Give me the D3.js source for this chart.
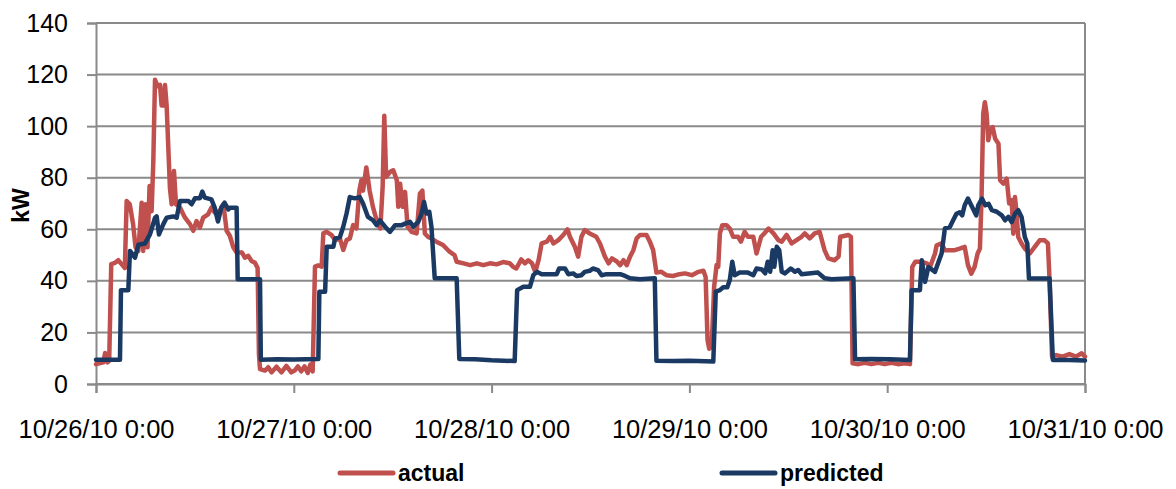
<!DOCTYPE html>
<html>
<head>
<meta charset="utf-8">
<script src="https://cdn.jsdelivr.net/npm/d3@7"></script>
<style>
	body { margin: 0; background: #fff; }
	svg text { font-family: "Liberation Sans", Arial, sans-serif; fill: #000; }
</style>
</head>
<body>
<div id="chart"></div>
<script>
// start of the series, hours are counted from here
const startDate = new Date(2010, 9, 26, 0, 0);
const tickLabels = ["10/26/10 0:00", "10/27/10 0:00", "10/28/10 0:00", "10/29/10 0:00", "10/30/10 0:00", "10/31/10 0:00"];
const yTicks = [0, 20, 40, 60, 80, 100, 120, 140];
const seriesNames = ["actual", "predicted"];

// actual load
const actualHours = [0, 0.9, 1.1, 1.4, 1.6, 1.85, 2.3, 2.7, 3.1, 3.5, 3.72, 4.1, 4.5, 4.8, 5.14, 5.54, 5.74, 6.0, 6.25, 6.5, 6.75, 6.95, 7.16, 7.48, 7.76, 7.96, 8.17, 8.37, 8.57, 8.97, 9.18, 9.46, 9.71, 10.19, 10.8, 11.4, 11.8, 12.2, 12.6, 13.0, 13.6, 14.0, 14.4, 15.0, 15.45, 15.85, 16.25, 16.66, 17.06, 17.7, 18.07, 18.48, 18.88, 19.29, 19.61, 19.77, 19.9, 20.5, 20.9, 21.3, 21.9, 22.5, 23.1, 23.7, 24.1, 24.5, 24.9, 25.3, 25.7, 26.0, 26.29, 26.57, 26.98, 27.38, 27.58, 27.99, 28.6, 29.0, 29.6, 30.0, 30.4, 30.8, 31.2, 31.6, 31.95, 32.2, 32.4, 32.8, 33.2, 33.6, 34.05, 34.5, 34.78, 34.98, 35.2, 35.67, 36.07, 36.5, 36.68, 36.9, 37.2, 37.5, 37.8, 38.3, 38.9, 39.3, 39.6, 39.9, 40.3, 40.7, 41.3, 42.1, 42.9, 43.5, 43.76, 44.6, 45.4, 46.2, 47.0, 47.8, 48.6, 49.4, 50.2, 50.6, 51.0, 51.6, 52.05, 52.45, 52.9, 53.3, 53.7, 54.07, 54.7, 55.1, 55.5, 56.1, 56.7, 57.2, 57.5, 58.1, 58.5, 58.9, 59.3, 59.9, 60.7, 61.15, 61.75, 62.2, 62.6, 63.2, 63.6, 64.0, 64.4, 64.8, 65.2, 65.6, 66.0, 66.8, 67.2, 67.6, 68.0, 68.6, 69.2, 70.0, 70.8, 71.46, 72.3, 73.1, 73.7, 73.97, 74.2, 74.4, 74.7, 75.0, 75.3, 75.5, 75.7, 75.99, 76.5, 76.9, 77.3, 77.9, 78.25, 78.7, 79.1, 79.75, 80.15, 80.7, 81.1, 81.6, 82.2, 82.8, 83.2, 83.8, 84.4, 85.0, 85.6, 86.0, 86.6, 87.2, 87.8, 88.4, 88.85, 89.6, 90.1, 90.3, 91.3, 91.6, 91.8, 92.5, 93.3, 94.1, 94.9, 95.7, 96.5, 97.3, 98.1, 98.76, 99.04, 99.4, 100.2, 100.8, 101.2, 101.8, 102.0, 102.6, 103.0, 103.6, 104.2, 104.8, 105.4, 105.8, 106.2, 106.6, 106.97, 107.25, 107.45, 107.65, 107.85, 108.06, 108.26, 108.5, 108.8, 109.1, 109.5, 109.7, 110.1, 110.5, 110.8, 111.1, 111.3, 111.5, 111.7, 111.9, 112.3, 112.7, 113.3, 113.9, 114.5, 115.1, 115.5, 115.7, 116.0, 116.5, 117.3, 118.1, 118.9, 119.6, 120.0];
const actualKW = [7.7, 8.4, 12.0, 8.4, 9.0, 46.5, 47.0, 48.0, 46.5, 45.0, 71.0, 69.7, 62.0, 53.0, 51.6, 70.3, 51.6, 69.7, 53.0, 76.8, 67.0, 86.0, 118.0, 115.5, 116.0, 108.0, 108.0, 116.0, 108.0, 76.0, 69.7, 82.6, 69.7, 68.4, 64.5, 62.0, 59.4, 63.2, 60.6, 64.5, 65.8, 68.4, 66.5, 67.0, 69.7, 59.4, 57.4, 53.0, 51.0, 51.0, 49.0, 49.7, 47.7, 47.0, 45.0, 11.6, 5.8, 5.2, 6.5, 4.5, 6.7, 4.5, 7.0, 4.5, 5.2, 6.8, 4.9, 6.8, 4.3, 7.5, 4.9, 45.5, 46.0, 45.5, 58.4, 59.0, 57.7, 55.8, 56.4, 52.0, 55.8, 56.4, 61.6, 60.3, 75.0, 79.0, 75.0, 84.0, 75.0, 68.7, 63.5, 60.3, 76.4, 104.0, 80.3, 82.2, 82.9, 79.0, 68.7, 77.7, 68.7, 74.5, 61.0, 59.0, 58.4, 73.8, 75.0, 58.4, 57.0, 56.4, 55.2, 53.9, 51.3, 50.0, 47.4, 46.8, 46.1, 46.8, 46.1, 46.8, 46.4, 47.3, 46.8, 45.5, 44.8, 48.3, 46.8, 48.0, 46.8, 43.5, 48.0, 54.5, 55.2, 57.1, 54.5, 55.8, 57.8, 60.0, 57.1, 53.2, 49.4, 57.1, 59.7, 58.4, 57.1, 54.5, 49.4, 46.8, 48.7, 47.5, 46.1, 48.0, 46.1, 49.4, 51.9, 56.5, 57.8, 57.8, 55.2, 51.9, 43.2, 43.5, 42.2, 41.9, 42.6, 42.9, 42.2, 43.5, 43.9, 41.5, 17.0, 13.7, 14.5, 37.7, 46.1, 45.5, 58.4, 61.6, 61.6, 60.3, 57.1, 57.1, 55.2, 59.0, 57.1, 57.1, 50.6, 57.1, 58.4, 60.3, 58.4, 55.8, 55.2, 57.8, 54.5, 55.8, 57.1, 58.4, 56.5, 58.4, 59.0, 51.9, 48.7, 48.0, 49.4, 57.1, 57.8, 57.1, 8.0, 7.7, 8.2, 7.7, 8.2, 7.7, 8.2, 7.7, 8.0, 7.7, 45.4, 47.4, 47.4, 46.8, 45.4, 50.6, 53.8, 54.5, 51.9, 51.9, 51.9, 52.5, 53.2, 46.1, 42.8, 45.4, 50.6, 52.5, 72.5, 104.8, 109.3, 104.8, 94.5, 98.3, 99.6, 95.1, 93.2, 79.0, 77.7, 79.6, 70.0, 71.3, 58.3, 72.5, 66.0, 57.0, 54.5, 52.5, 50.6, 53.2, 55.7, 55.7, 54.5, 40.3, 10.6, 11.2, 10.6, 11.6, 10.6, 11.9, 10.6];

// predicted load
const predictedHours = [0, 2.91, 3.03, 3.92, 4.12, 4.73, 5.14, 5.94, 6.55, 7.16, 7.36, 7.64, 8.17, 8.57, 9.38, 9.79, 10.19, 11.2, 11.6, 12.0, 12.6, 12.9, 13.2, 14.0, 14.4, 14.8, 15.2, 15.6, 16.05, 16.25, 17.06, 17.19, 19.9, 20.0, 22.0, 24.0, 26.98, 27.1, 27.8, 27.99, 28.8, 29.0, 29.6, 30.0, 30.4, 30.8, 31.4, 32.0, 32.4, 33.0, 33.6, 34.05, 34.46, 35.07, 35.67, 36.3, 37.1, 37.5, 38.1, 38.5, 39.1, 39.5, 39.8, 40.1, 40.44, 40.7, 41.1, 43.76, 44.08, 46.0, 48.0, 50.8, 51.1, 51.85, 52.65, 53.06, 53.5, 54.07, 55.9, 56.2, 56.9, 57.3, 57.9, 58.3, 58.9, 59.3, 59.9, 60.3, 60.9, 61.35, 61.95, 63.6, 64.2, 64.8, 66.0, 67.8, 68.0, 70.0, 72.0, 74.9, 75.2, 75.7, 76.1, 76.6, 76.9, 77.2, 77.5, 78.1, 79.1, 79.75, 80.15, 80.8, 81.2, 81.5, 81.8, 82.1, 82.3, 82.6, 82.9, 83.2, 83.6, 84.3, 84.8, 85.2, 85.6, 87.6, 88.4, 89.25, 91.9, 92.1, 94.0, 96.3, 98.76, 98.96, 99.97, 100.2, 100.6, 101.0, 101.8, 102.3, 102.6, 103.0, 103.6, 104.0, 104.4, 104.8, 105.1, 105.4, 105.8, 106.2, 106.8, 107.05, 107.5, 107.9, 108.3, 108.7, 109.3, 109.9, 110.3, 110.7, 111.1, 111.5, 111.9, 112.3, 112.7, 113.0, 113.2, 115.7, 116.1, 118.0, 120.0];
const predictedKW = [9.4, 9.4, 36.4, 36.4, 51.6, 49.0, 54.0, 54.5, 58.0, 64.5, 65.0, 58.0, 62.0, 64.5, 65.0, 64.5, 71.0, 71.0, 69.7, 72.0, 72.0, 74.6, 72.3, 71.6, 68.4, 63.0, 68.4, 70.3, 67.7, 68.4, 68.4, 40.6, 40.6, 9.4, 9.6, 9.5, 9.7, 35.8, 35.8, 53.2, 53.2, 56.4, 57.0, 61.0, 66.1, 72.5, 72.0, 72.5, 70.0, 64.8, 63.5, 61.6, 63.5, 61.0, 59.0, 61.6, 61.6, 62.2, 62.9, 61.0, 62.9, 66.1, 70.6, 66.1, 66.8, 61.0, 41.0, 41.0, 9.7, 9.6, 9.2, 8.9, 36.4, 37.7, 37.7, 42.2, 43.5, 42.6, 42.6, 44.8, 44.8, 42.6, 42.9, 41.9, 42.2, 43.5, 43.9, 44.8, 44.2, 42.2, 42.6, 42.6, 41.9, 41.0, 40.6, 41.0, 9.0, 8.9, 9.0, 8.7, 35.8, 36.4, 37.5, 37.5, 40.3, 47.4, 42.2, 43.2, 43.2, 42.2, 44.8, 44.4, 42.9, 47.4, 43.5, 51.9, 45.5, 53.2, 51.9, 43.5, 42.9, 44.8, 43.5, 44.2, 42.6, 43.2, 41.0, 40.6, 41.0, 9.6, 9.7, 9.6, 9.3, 36.4, 36.4, 48.0, 39.6, 45.4, 43.5, 48.0, 50.6, 60.3, 60.9, 63.5, 66.0, 66.6, 65.4, 69.3, 71.9, 69.3, 65.4, 69.3, 71.9, 69.3, 69.9, 67.4, 66.8, 65.4, 63.5, 64.8, 62.8, 66.0, 67.4, 64.8, 57.0, 54.5, 40.9, 40.9, 9.3, 9.3, 9.1];

const width = 1176;
const height = 489;
const margin = { top: 23, right: 91, bottom: 105, left: 96 };
const colors = { actual: "#C0504D", predicted: "#1A3A63" };
const gridColor = "#8A8A8A";

const svg = d3.select("#chart").append("svg")
	.attr("width", width)
	.attr("height", height);

const hourToDate = (h) => new Date(startDate.getTime() + h * 3600 * 1000);

const x = d3.scaleTime()
	.domain([startDate, hourToDate(120)])
	.range([margin.left, width - margin.right]);

const y = d3.scaleLinear()
	.domain([0, 140])
	.range([height - margin.bottom, margin.top]);

// horizontal gridlines
svg.append("g")
	.selectAll("line")
	.data(yTicks)
	.join("line")
	.attr("x1", margin.left)
	.attr("x2", width - margin.right)
	.attr("y1", (d) => y(d))
	.attr("y2", (d) => y(d))
	.attr("stroke", gridColor)
	.attr("stroke-width", 2);

// right border of plot area
svg.append("line")
	.attr("x1", width - margin.right)
	.attr("x2", width - margin.right)
	.attr("y1", y(140))
	.attr("y2", y(0))
	.attr("stroke", gridColor)
	.attr("stroke-width", 2);

// y axis
const yAxis = svg.append("g")
	.attr("transform", `translate(${margin.left},0)`)
	.call(d3.axisLeft(y).tickValues(yTicks).tickSize(9).tickPadding(19));
yAxis.select(".domain").attr("stroke", gridColor).attr("stroke-width", 2);
yAxis.selectAll(".tick line").attr("stroke", gridColor).attr("stroke-width", 2);
yAxis.selectAll(".tick text")
	.attr("font-size", 25)
	.attr("font-family", "Liberation Sans, Arial, sans-serif")
	.attr("fill", "#000");

// x axis
const xTickDates = tickLabels.map((d, i) => hourToDate(i * 24));
const xAxis = svg.append("g")
	.attr("transform", `translate(0,${y(0)})`)
	.call(d3.axisBottom(x)
		.tickValues(xTickDates)
		.tickSize(9)
		.tickPadding(27)
		.tickFormat((d, i) => tickLabels[i]));
xAxis.select(".domain").attr("stroke", gridColor).attr("stroke-width", 2);
xAxis.selectAll(".tick line").attr("stroke", gridColor).attr("stroke-width", 2);
xAxis.selectAll(".tick text")
	.attr("font-size", 25.5)
	.attr("font-family", "Liberation Sans, Arial, sans-serif")
	.attr("fill", "#000");

// y axis title
svg.append("text")
	.attr("transform", `translate(29,${(y(0) + y(140)) / 2 + 2}) rotate(-90)`)
	.attr("text-anchor", "middle")
	.attr("font-size", 23)
	.attr("font-weight", "bold")
	.text("kW");

// lines
const line = d3.line()
	.x((d) => x(hourToDate(d[0])))
	.y((d) => y(d[1]));

const actualData = actualHours.map((h, i) => [h, actualKW[i]]);
const predictedData = predictedHours.map((h, i) => [h, predictedKW[i]]);

svg.append("path")
	.datum(actualData)
	.attr("d", line)
	.attr("fill", "none")
	.attr("stroke", colors.actual)
	.attr("stroke-width", 4.5)
	.attr("stroke-linejoin", "round")
	.attr("stroke-linecap", "round");

svg.append("path")
	.datum(predictedData)
	.attr("d", line)
	.attr("fill", "none")
	.attr("stroke", colors.predicted)
	.attr("stroke-width", 4.5)
	.attr("stroke-linejoin", "round")
	.attr("stroke-linecap", "round");

// legend
const legendX = [340, 722];
const legend = svg.append("g");
seriesNames.forEach((name, i) => {
	legend.append("line")
		.attr("x1", legendX[i])
		.attr("x2", legendX[i] + 53)
		.attr("y1", 473)
		.attr("y2", 473)
		.attr("stroke", colors[name])
		.attr("stroke-width", 5)
		.attr("stroke-linecap", "round");
	legend.append("text")
		.attr("x", legendX[i] + 58)
		.attr("y", 481)
		.attr("font-size", 23)
		.attr("font-weight", "bold")
		.text(name);
});
</script>
</body>
</html>
